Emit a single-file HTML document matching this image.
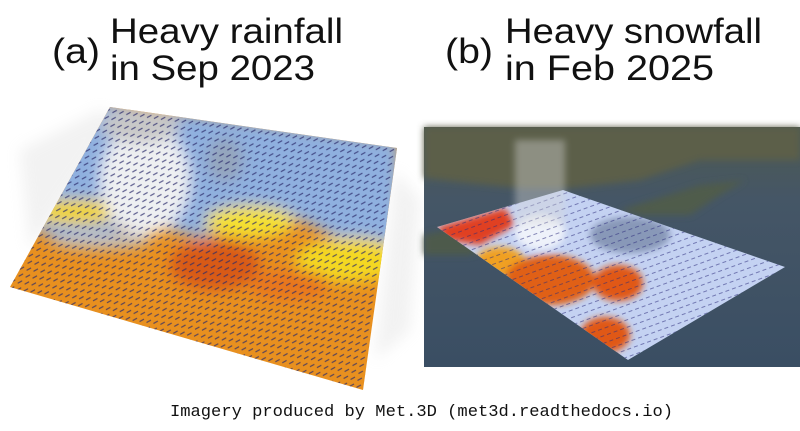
<!DOCTYPE html>
<html><head><meta charset="utf-8"><style>
html,body{margin:0;padding:0;background:#fff;width:800px;height:431px;overflow:hidden}
</style></head><body>
<svg width="800" height="431" viewBox="0 0 800 431" xmlns="http://www.w3.org/2000/svg">
<defs>
<clipPath id="qa"><polygon points="110,107 397,148 363,390 10,287"/></clipPath>
<clipPath id="qb"><polygon points="437,227 563,190 785,267 628,360"/></clipPath>
<filter id="b8" x="-50%" y="-50%" width="200%" height="200%"><feGaussianBlur stdDeviation="7"/></filter>
<filter id="b4" x="-50%" y="-50%" width="200%" height="200%"><feGaussianBlur stdDeviation="3.5"/></filter>
<pattern id="arr" width="7" height="7" patternUnits="userSpaceOnUse" patternTransform="rotate(8)">
<path d="M1,5 L5,2" stroke="#2a2a6a" stroke-width="1.1" opacity="0.75"/>
</pattern>
<pattern id="arr2" width="7" height="7" patternUnits="userSpaceOnUse" patternTransform="rotate(-20)">
<path d="M1,4 L5,4" stroke="#2a2a7a" stroke-width="0.9" opacity="0.6"/>
</pattern>
<linearGradient id="dark" x1="0" y1="0" x2="0" y2="1">
<stop offset="0" stop-color="#4e5a52"/><stop offset="0.3" stop-color="#455666"/><stop offset="1" stop-color="#3a4e63"/>
</linearGradient>
</defs>

<!-- Panel a -->
<g opacity="0.25" filter="url(#b8)">
<polygon points="20,150 100,110 120,120 30,250" fill="#ccc"/>
<polygon points="395,170 420,200 410,330 375,360" fill="#ccc"/>
</g>
<g clip-path="url(#qa)">
<rect x="0" y="100" width="400" height="300" fill="#e8901f"/>
<g filter="url(#b8)">
<polygon points="100,100 400,140 400,255 340,240 300,220 250,225 200,238 150,225 60,238 0,220 0,100" fill="#8fb0df"/>
<ellipse cx="350" cy="260" rx="55" ry="22" fill="#f4d820"/>
<ellipse cx="250" cy="222" rx="45" ry="16" fill="#f4e030"/>
<ellipse cx="75" cy="212" rx="50" ry="12" fill="#f2d428"/>
<ellipse cx="215" cy="265" rx="45" ry="25" fill="#d85a12"/>
<ellipse cx="290" cy="285" rx="40" ry="15" fill="#e8761a"/>
<ellipse cx="145" cy="180" rx="45" ry="55" fill="#eef0f2"/>
<ellipse cx="140" cy="125" rx="40" ry="18" fill="#c8c8c8"/>
<ellipse cx="100" cy="240" rx="50" ry="9" fill="#c0c0c0"/>
<ellipse cx="225" cy="160" rx="18" ry="22" fill="#9a9a9a" opacity="0.5"/>
</g>
<rect x="0" y="100" width="400" height="300" fill="url(#arr)"/>
</g>

<!-- Panel b -->
<rect x="424" y="127" width="376" height="240" fill="url(#dark)"/>
<g filter="url(#b4)">
<polygon points="424,127 800,127 800,160 700,160 640,180 570,188 520,188 470,183 424,178" fill="#5b5f4a"/>
<polygon points="620,210 700,185 745,180 720,195 690,215 640,215" fill="#4f5b4c"/>
<polygon points="424,235 470,225 500,245 470,255 424,255" fill="#4e5a4c"/>
</g>
<g clip-path="url(#qb)">
<rect x="420" y="180" width="380" height="190" fill="#c4d2f2"/>
<g filter="url(#b4)">
<polygon points="437,227 505,208 515,225 480,245 445,240" fill="#e04020"/>
<ellipse cx="500" cy="262" rx="25" ry="15" fill="#f0a020"/>
<ellipse cx="550" cy="280" rx="45" ry="25" fill="#e06018"/>
<ellipse cx="618" cy="283" rx="25" ry="18" fill="#e05818"/>
<ellipse cx="605" cy="335" rx="25" ry="18" fill="#e05818"/>
<ellipse cx="540" cy="232" rx="25" ry="18" fill="#eef2fa"/>
<ellipse cx="630" cy="235" rx="40" ry="18" fill="#8898b8"/>
</g>
<rect x="420" y="180" width="380" height="190" fill="url(#arr2)"/>
</g>
<g opacity="0.4" filter="url(#b4)">
<rect x="515" y="140" width="50" height="85" fill="#d8d8d8"/>
</g>

<!-- Titles -->
<g font-family="'Liberation Sans', sans-serif" font-size="35" fill="#111">
<text x="52" y="63" textLength="48" lengthAdjust="spacingAndGlyphs">(a)</text>
<text x="110" y="43" textLength="233" lengthAdjust="spacingAndGlyphs">Heavy rainfall</text>
<text x="110" y="80" textLength="205" lengthAdjust="spacingAndGlyphs">in Sep 2023</text>
<text x="445" y="63" textLength="48" lengthAdjust="spacingAndGlyphs">(b)</text>
<text x="505" y="43" textLength="257" lengthAdjust="spacingAndGlyphs">Heavy snowfall</text>
<text x="505" y="80" textLength="209" lengthAdjust="spacingAndGlyphs">in Feb 2025</text>
</g>
<text x="170" y="416" font-family="'Liberation Mono', monospace" font-size="16.8" fill="#111" textLength="503" lengthAdjust="spacingAndGlyphs">Imagery produced by Met.3D (met3d.readthedocs.io)</text>
</svg>
</body></html>
